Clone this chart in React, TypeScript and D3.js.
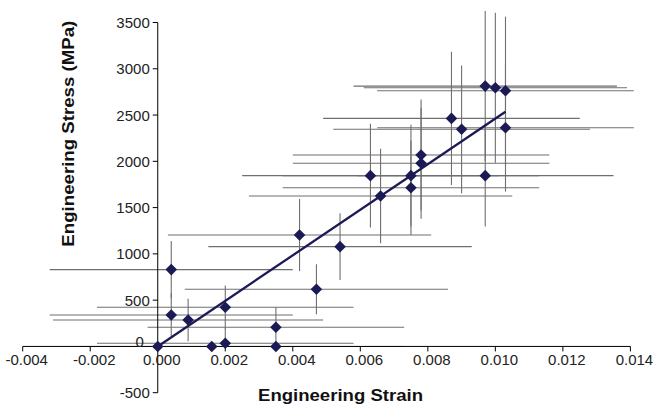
import React from "react";
import * as d3 from "d3";

// ---- data ----
const strain = [0, 0.0004, 0.0004, 0.0009, 0.0016, 0.002, 0.002, 0.0035, 0.0035, 0.0042, 0.0047, 0.0054, 0.0063, 0.0066, 0.0075, 0.0075, 0.0078, 0.0078, 0.0087, 0.009, 0.0097, 0.0097, 0.01, 0.0103, 0.0103];
const stress = [0, 830, 340, 286, 0, 423, 34, 207, 0, 1204, 618, 1078, 1845, 1625, 1845, 1715, 2068, 1979, 2464, 2346, 2813, 1845, 2795, 2763, 2363];
const strainErr = [0, 0.0036, 0.0036, 0.004, 0.0039, 0.0038, 0.0038, 0.0038, 0.0038, 0.0039, 0.0039, 0.0039, 0.0038, 0.0039, 0.0038, 0.0038, 0.0038, 0.0038, 0.0038, 0.0038, 0.0039, 0.0038, 0.0039, 0.0038, 0.0038];
const stressErrUp = [0, 310, 235, 230, 0, 235, 160, 220, 0, 390, 270, 360, 560, 510, 550, 510, 600, 600, 720, 690, 810, 550, 810, 800, 690];
const stressErrDown = [0, 310, 235, 230, 0, 235, 34, 207, 0, 390, 270, 360, 560, 510, 550, 510, 600, 600, 720, 690, 810, 550, 810, 800, 690];

const fitStrain = [0, 0.0103];
const fitStress = [0, 2535];

const xTicks = [-0.004, -0.002, 0, 0.002, 0.004, 0.006, 0.008, 0.01, 0.012, 0.014];
const yTicks = [-500, 0, 500, 1000, 1500, 2000, 2500, 3000, 3500];

const W = 654;
const H = 405;

export default function App() {
  const x = d3.scaleLinear().domain([-0.004, 0.014]).range([22.7, 630.4]);
  const y = d3.scaleLinear().domain([-500, 3500]).range([392.7, 22.5]);
  const x0 = x(0);
  const y0 = y(0);
  const font = "'Liberation Sans', Arial, Helvetica, sans-serif";
  const navy = "#1b1a55";
  const errColor = "#6f6f6f";
  const r = 5.8;

  const line = d3
    .line<number>()
    .x((_, i) => x(fitStrain[i]))
    .y((d) => y(d));

  return (
    <svg
      width={W}
      height={H}
      style={{ position: "absolute", left: 0, top: 0, background: "#fff" }}
      fontFamily={font}
    >
      <rect width={W} height={H} fill="#fff" />
      {/* error bars */}
      <g stroke={errColor} strokeWidth={1.1}>
        {strain.map((s, i) => (
          <g key={"e" + i}>
            {strainErr[i] > 0 && (
              <line x1={x(s - strainErr[i])} x2={x(s + strainErr[i])} y1={y(stress[i])} y2={y(stress[i])} />
            )}
            {(stressErrUp[i] > 0 || stressErrDown[i] > 0) && (
              <line x1={x(s)} x2={x(s)} y1={y(stress[i] + stressErrUp[i])} y2={y(stress[i] - stressErrDown[i])} />
            )}
          </g>
        ))}
      </g>
      {/* axes */}
      <g stroke="#000" strokeWidth={1}>
        <line x1={x(-0.004)} x2={x(0.014)} y1={y0} y2={y0} />
        <line x1={x0} x2={x0} y1={y(3500)} y2={y(-500)} />
        {xTicks.map((t) => (
          <line key={"xt" + t} x1={x(t)} x2={x(t)} y1={y0} y2={y0 + 5} />
        ))}
        {yTicks.map((t) => (
          <line key={"yt" + t} x1={x0 - 5} x2={x0} y1={y(t)} y2={y(t)} />
        ))}
      </g>
      <g fontSize={15} fill="#222">
        {xTicks.map((t) => (
          <text key={"xl" + t} x={x(t) + 4} y={y0 + 19} textAnchor="middle">
            {d3.format(".3f")(t).replace("−", "-")}
          </text>
        ))}
        {yTicks.map((t) => (
          <text
            key={"yl" + t}
            x={t === 0 ? x0 - 14 : x0 - 8}
            y={t === 0 ? y0 + 0.5 : y(t) + 5.5}
            textAnchor="end"
          >
            {t}
          </text>
        ))}
      </g>
      {/* fit line */}
      <path d={line(fitStress) || ""} fill="none" stroke={navy} strokeWidth={2.3} />
      {/* markers */}
      <g fill={navy}>
        {strain.map((s, i) => {
          const cx = x(s);
          const cy = y(stress[i]);
          const p = d3.path();
          p.moveTo(cx, cy - r);
          p.lineTo(cx + r, cy);
          p.lineTo(cx, cy + r);
          p.lineTo(cx - r, cy);
          p.closePath();
          return <path key={"m" + i} d={p.toString()} />;
        })}
      </g>
      {/* titles */}
      <text
        x={340.5}
        y={400.5}
        textAnchor="middle"
        fontWeight="bold"
        fontSize={17}
        textLength={165}
        lengthAdjust="spacingAndGlyphs"
        fill="#111"
      >
        Engineering Strain
      </text>
      <text
        transform={`translate(74,133.7) rotate(-90)`}
        textAnchor="middle"
        fontWeight="bold"
        fontSize={16}
        textLength={226}
        lengthAdjust="spacingAndGlyphs"
        fill="#111"
      >
        Engineering Stress (MPa)
      </text>
    </svg>
  );
}
